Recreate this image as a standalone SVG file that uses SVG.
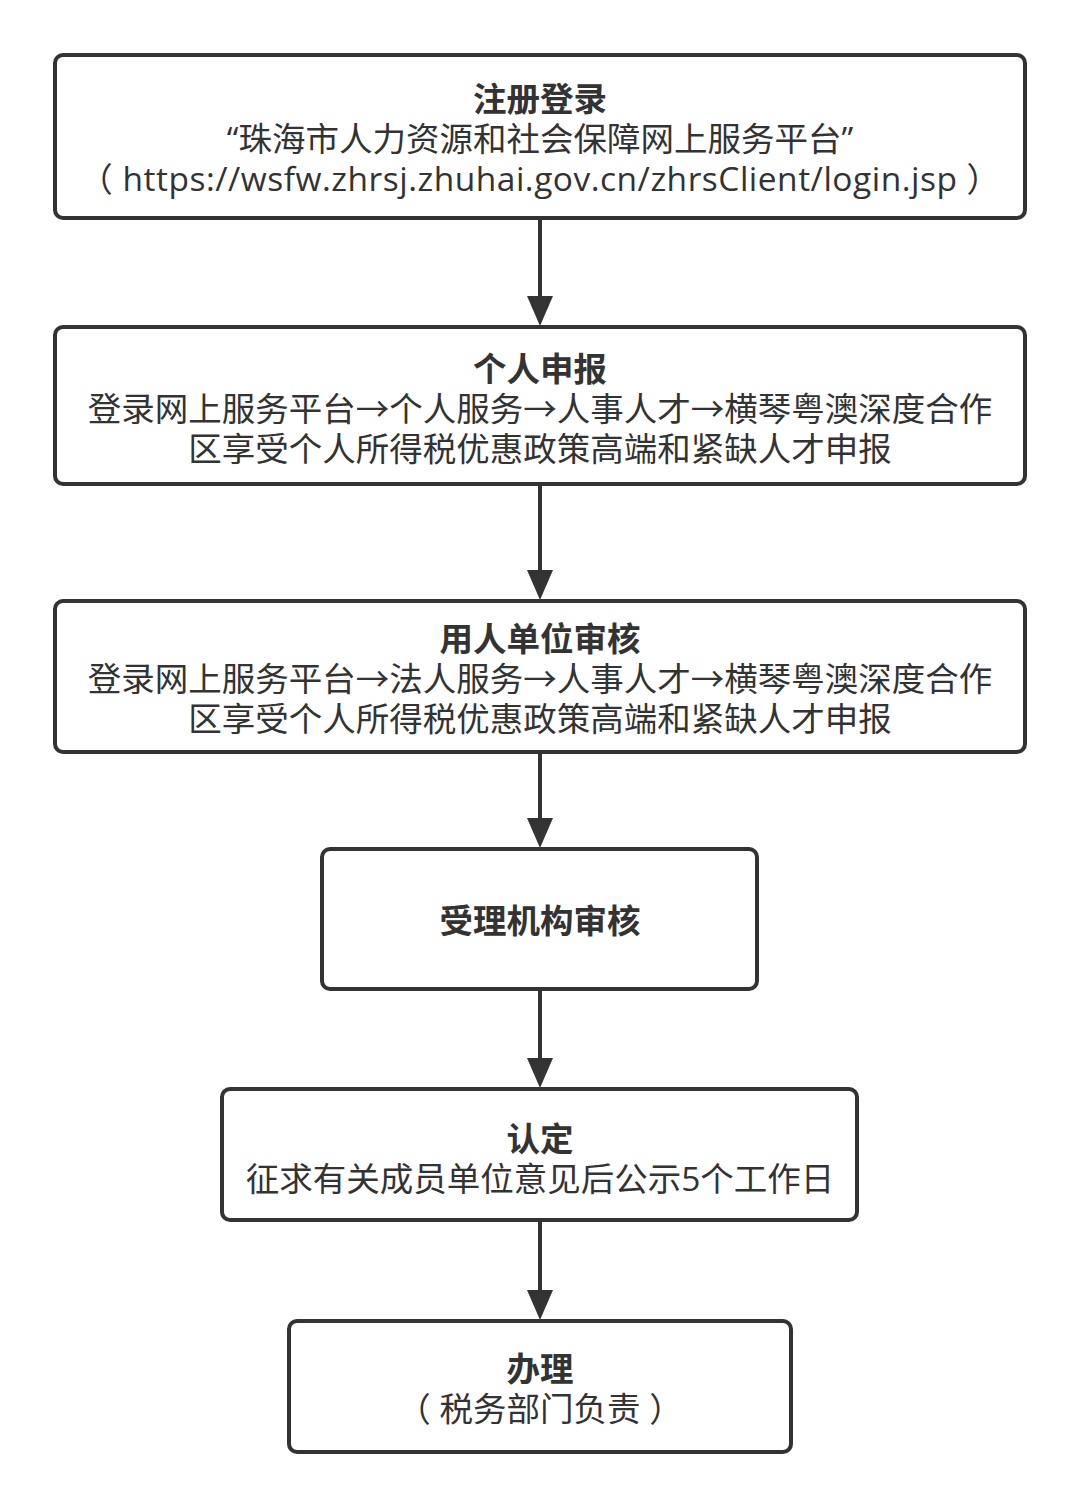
<svg xmlns="http://www.w3.org/2000/svg" width="1080" height="1508" viewBox="0 0 1080 1508">
<style>
.box{fill:#fff;stroke:#333;stroke-width:4}
.t{font-family:"Open Sans","Noto Sans CJK SC",sans-serif;font-size:33.5px;fill:#333;text-anchor:middle}
.b{font-weight:bold}
.c{stroke:#333;stroke-width:4;fill:none}
.ah{fill:#333}
</style>
<rect width="1080" height="1508" fill="#fff"/>
<g id="connectors">
<path class="c" d="M540,219 V297"/><path class="ah" d="M527,296 H553 L540,326 Z"/>
<path class="c" d="M540,485 V571"/><path class="ah" d="M527,570 H553 L540,600 Z"/>
<path class="c" d="M540,753 V819"/><path class="ah" d="M527,818 H553 L540,848 Z"/>
<path class="c" d="M540,990 V1059"/><path class="ah" d="M527,1058 H553 L540,1088 Z"/>
<path class="c" d="M540,1221 V1291"/><path class="ah" d="M527,1290 H553 L540,1320 Z"/>
</g>
<g id="n1">
<rect class="box" x="55" y="55" width="970" height="163" rx="8"/>
<text class="t b" x="540" y="111">注册登录</text>
<text class="t" x="540" y="151">“珠海市人力资源和社会保障网上服务平台”</text>
<text class="t" x="540" y="191" letter-spacing="0.5">（ https://wsfw.zhrsj.zhuhai.gov.cn/zhrsClient/login.jsp ）</text>
</g>
<g id="n2">
<rect class="box" x="55" y="327" width="970" height="157" rx="8"/>
<text class="t b" x="540" y="381">个人申报</text>
<text class="t" x="540" y="421">登录网上服务平台→个人服务→人事人才→横琴粤澳深度合作</text>
<text class="t" x="540" y="461">区享受个人所得税优惠政策高端和紧缺人才申报</text>
</g>
<g id="n3">
<rect class="box" x="55" y="601" width="970" height="151" rx="8"/>
<text class="t b" x="540" y="651">用人单位审核</text>
<text class="t" x="540" y="691">登录网上服务平台→法人服务→人事人才→横琴粤澳深度合作</text>
<text class="t" x="540" y="731">区享受个人所得税优惠政策高端和紧缺人才申报</text>
</g>
<g id="n4">
<rect class="box" x="322" y="849" width="435" height="140" rx="8"/>
<text class="t b" x="540" y="933">受理机构审核</text>
</g>
<g id="n5">
<rect class="box" x="222" y="1089" width="635" height="131" rx="8"/>
<text class="t b" x="540" y="1151">认定</text>
<text class="t" x="540" y="1191">征求有关成员单位意见后公示5个工作日</text>
</g>
<g id="n6">
<rect class="box" x="289" y="1321" width="502" height="131" rx="8"/>
<text class="t b" x="540" y="1381">办理</text>
<text class="t" x="540" y="1421">（ 税务部门负责 ）</text>
</g>
</svg>
